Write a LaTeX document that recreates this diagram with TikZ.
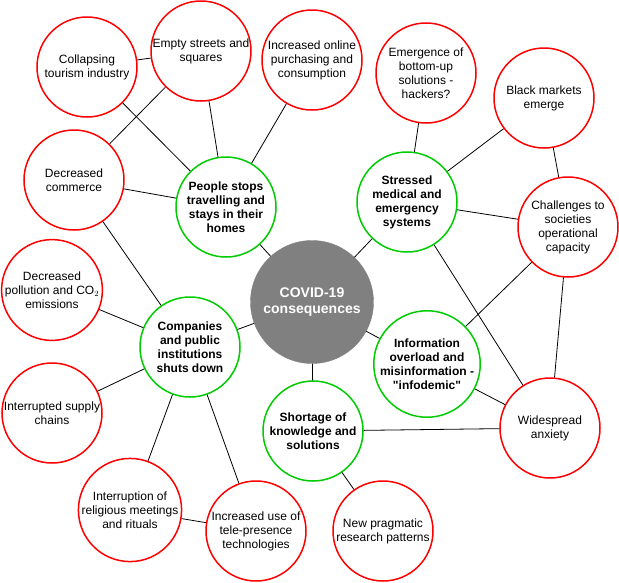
\documentclass[tikz,border=0pt]{standalone}
\usepackage{fontspec}
\setmainfont{Liberation Sans}
\usepackage{tikz}
\definecolor{cv_red}{RGB}{255, 0, 0}
\definecolor{cv_green}{RGB}{0, 204, 0}
\definecolor{cv_gray}{RGB}{128, 128, 128}

\begin{document}
\begin{tikzpicture}[
  x=1pt,y=-1pt,
  font=\fontsize{12}{14}\selectfont,
  effect/.style={circle,draw=cv_red,line width=1.5pt,fill=white,
                 minimum size=100pt,inner sep=0pt,align=center},
  cause/.style={circle,draw=cv_green,line width=1.5pt,fill=white,
                minimum size=100pt,inner sep=0pt,align=center,font=\fontsize{12}{14}\selectfont\bfseries},
  core/.style={circle,fill=cv_gray,draw=cv_gray,minimum size=123pt,inner sep=0pt,
               align=center,text=white,font=\fontsize{14}{16.5}\selectfont\bfseries},
  link/.style={line width=0.8pt,black}
]
\useasboundingbox (0,0) rectangle (619,582);
\node[core] (covid) at (312,302) {COVID-19\\consequences};
\node[cause] (people) at (226,207) {People stops\\travelling and\\stays in their\\homes};
\node[cause] (medical) at (407,202) {Stressed\\medical and\\emergency\\systems};
\node[cause] (companies) at (190,347) {Companies\\and public\\institutions\\shuts down};
\node[cause] (infodemic) at (427,364) {Information\\overload and\\misinformation -\\\textquotedbl infodemic\textquotedbl};
\node[cause] (shortage) at (313,431) {Shortage of\\knowledge and\\solutions};
\node[effect] (tourism) at (87,67) {Collapsing\\tourism industry};
\node[effect] (streets) at (201,51) {Empty streets and\\squares};
\node[effect] (online) at (312,60) {Increased online\\purchasing and\\consumption};
\node[effect] (commerce) at (74,180) {Decreased\\commerce};
\node[effect] (pollution) at (52,290) {Decreased\\pollution and CO$_2$\\emissions};
\node[effect] (supply) at (52,413) {Interrupted supply\\chains};
\node[effect] (religious) at (130,510) {Interruption of\\religious meetings\\and rituals};
\node[effect] (telepresence) at (256,531) {Increased use of\\tele-presence\\technologies};
\node[effect] (pragmatic) at (383,531) {New pragmatic\\research patterns};
\node[effect] (anxiety) at (550,428) {Widespread\\anxiety};
\node[effect] (challenges) at (568,227) {Challenges to\\societies\\operational\\capacity};
\node[effect] (blackmarket) at (544,98) {Black markets\\emerge};
\node[effect] (bottomup) at (426,73) {Emergence of\\bottom-up\\solutions -\\hackers?};
\draw[link] (tourism) -- (streets);
\draw[link] (tourism) -- (people);
\draw[link] (streets) -- (commerce);
\draw[link] (streets) -- (people);
\draw[link] (online) -- (people);
\draw[link] (commerce) -- (people);
\draw[link] (commerce) -- (companies);
\draw[link] (people) -- (covid);
\draw[link] (bottomup) -- (medical);
\draw[link] (blackmarket) -- (medical);
\draw[link] (blackmarket) -- (challenges);
\draw[link] (medical) -- (challenges);
\draw[link] (medical) -- (covid);
\draw[link] (medical) -- (anxiety);
\draw[link] (challenges) -- (infodemic);
\draw[link] (challenges) -- (anxiety);
\draw[link] (pollution) -- (companies);
\draw[link] (supply) -- (companies);
\draw[link] (religious) -- (companies);
\draw[link] (telepresence) -- (companies);
\draw[link] (religious) -- (telepresence);
\draw[link] (companies) -- (covid);
\draw[link] (covid) -- (shortage);
\draw[link] (covid) -- (infodemic);
\draw[link] (infodemic) -- (anxiety);
\draw[link] (shortage) -- (anxiety);
\draw[link] (shortage) -- (pragmatic);
\end{tikzpicture}
\end{document}
